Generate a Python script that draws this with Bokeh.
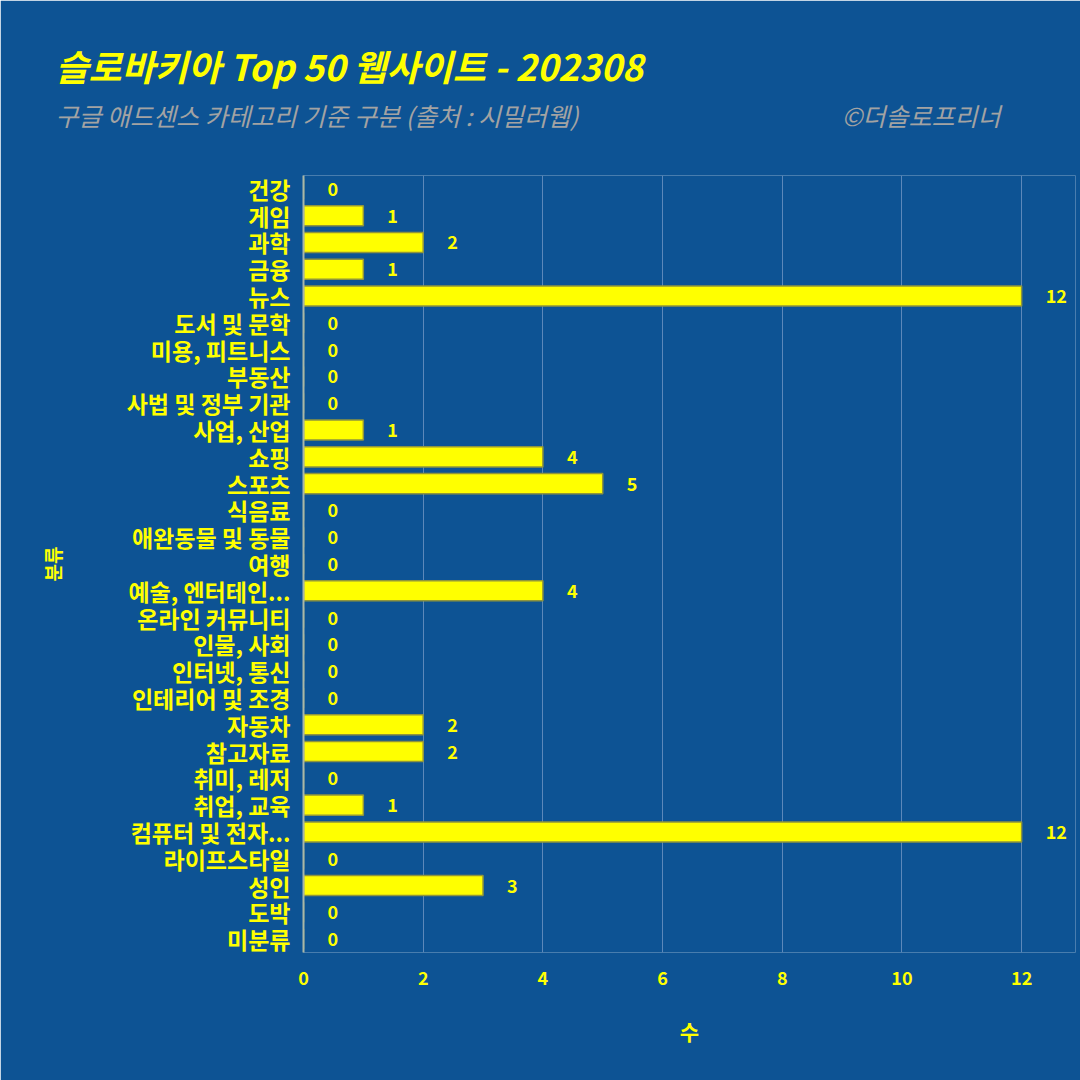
from bokeh.plotting import figure
from bokeh.models import ColumnDataSource, FactorRange, Range1d, FixedTicker, Title
from bokeh.core.properties import value
from bokeh.embed import file_html
from bokeh.resources import INLINE

categories = ["건강", "게임", "과학", "금융", "뉴스", "도서 및 문학", "미용, 피트니스", "부동산",
              "사법 및 정부 기관", "사업, 산업", "쇼핑", "스포츠", "식음료", "애완동물 및 동물", "여행",
              "예술, 엔터테인...", "온라인 커뮤니티", "인물, 사회", "인터넷, 통신", "인테리어 및 조경",
              "자동차", "참고자료", "취미, 레저", "취업, 교육", "컴퓨터 및 전자...", "라이프스타일",
              "성인", "도박", "미분류"]
counts = [0, 1, 2, 1, 12, 0, 0, 0, 0, 1, 4, 5, 0, 0, 0, 4, 0, 0, 0, 0, 2, 2, 0, 1, 12, 0, 3, 0, 0]
x_ticks = [0, 2, 4, 6, 8, 10, 12]

title_text = "슬로바키아 Top 50 웹사이트 - 202308"
subtitle_text = "구글 애드센스 카테고리 기준 구분 (출처 : 시밀러웹)"
credit_text = "©더솔로프리너"
x_title = "수"
y_title = "분류"

BG = "#0d5394"
YEL = "#ffff00"
GREY = "#a3a3a3"
FONT = "Noto Sans CJK KR"
NBSP = "\u00a0"

FL, FB = 303, 952

src = ColumnDataSource(dict(cat=categories, val=counts, lab=[str(v) for v in counts]))

p = figure(width=1080, height=1080, output_backend="svg", toolbar_location=None,
           title_location=None,
           y_range=FactorRange(factors=list(reversed(categories)), range_padding=0),
           x_range=Range1d(0, 12.9),
           min_border_left=FL, min_border_right=5, min_border_top=175,
           min_border_bottom=1080 - FB)
p.background_fill_color = BG
p.border_fill_color = BG
p.outline_line_color = None

p.hbar(y="cat", right="val", left=0, height=0.75, source=src,
       fill_color=YEL, line_color="#8f953c", line_width=1.5)
p.text(x="val", y="cat", text="lab", source=src, x_offset=24,
       text_baseline="middle", text_align="left", text_color=YEL,
       text_font=value(FONT), text_font_style="bold", text_font_size="18px")

p.ygrid.grid_line_color = None
p.xgrid.grid_line_color = "#5c88ba"
p.xgrid.grid_line_width = 1
p.xaxis.ticker = FixedTicker(ticks=x_ticks)
p.xaxis.axis_line_color = None
p.xaxis.major_tick_line_color = None
p.xaxis.minor_tick_line_color = None
p.xaxis.major_label_text_color = YEL
p.xaxis.major_label_text_font = FONT
p.xaxis.major_label_text_font_style = "bold"
p.xaxis.major_label_text_font_size = "18px"
p.xaxis.major_label_standoff = 12
p.xaxis.axis_label = x_title
p.xaxis.axis_label_text_color = YEL
p.xaxis.axis_label_text_font = FONT
p.xaxis.axis_label_text_font_style = "bold"
p.xaxis.axis_label_text_font_size = "21px"
p.xaxis.axis_label_standoff = 28

p.yaxis.axis_line_color = "#a9b7a8"
p.yaxis.axis_line_width = 2
p.yaxis.major_tick_line_color = None
p.yaxis.minor_tick_line_color = None
p.yaxis.major_label_text_color = YEL
p.yaxis.major_label_text_font = FONT
p.yaxis.major_label_text_font_style = "bold"
p.yaxis.major_label_text_font_size = "23px"
p.yaxis.major_label_standoff = 7
p.yaxis.axis_label = y_title
p.yaxis.axis_label_text_color = YEL
p.yaxis.axis_label_text_font = FONT
p.yaxis.axis_label_text_font_style = "bold"
p.yaxis.axis_label_text_font_size = "19px"
p.yaxis.axis_label_standoff = 58

# header rows (first added sits closest to the frame)
p.add_layout(Title(text=NBSP, text_font_size="10px", standoff=30), "above")   # spacer
p.add_layout(Title(text=subtitle_text + NBSP * 47 + credit_text, align="left",
                   offset=55 - FL, standoff=0, text_color=GREY, text_font=FONT,
                   text_font_style="italic", text_font_size="25px"), "above")
p.add_layout(Title(text=title_text, align="left", offset=55 - FL, standoff=8,
                   text_color=YEL, text_font=FONT, text_font_style="bold italic",
                   text_font_size="36px"), "above")

open("out.html", "w").write(file_html(p, INLINE))
